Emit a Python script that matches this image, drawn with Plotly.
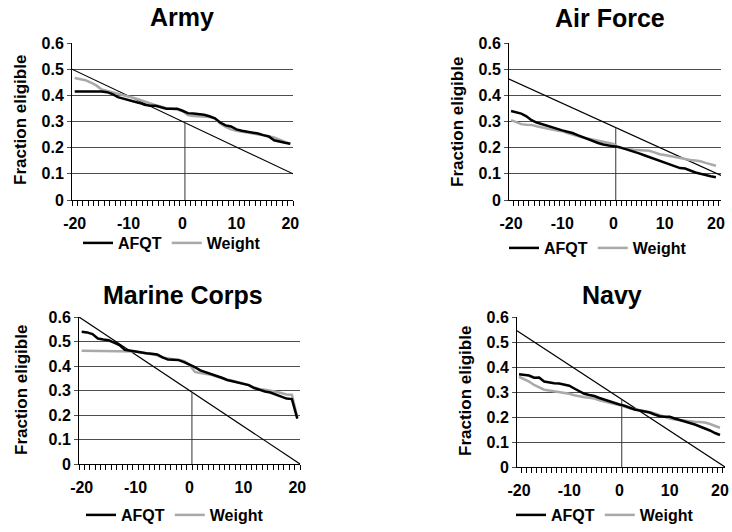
import plotly.graph_objects as go

# ---------------- data ----------------
x_vals = list(range(-20, 21))

army_afqt = [0.415, 0.415, 0.415, 0.415, 0.415, 0.415, 0.412, 0.405, 0.393, 0.388,
             0.383, 0.376, 0.371, 0.364, 0.360, 0.360, 0.355, 0.349, 0.349, 0.349,
             0.341, 0.332, 0.331, 0.329, 0.326, 0.320, 0.312, 0.296, 0.285, 0.281,
             0.270, 0.265, 0.262, 0.258, 0.254, 0.248, 0.243, 0.228, 0.222, 0.219, 0.215]
army_weight = [0.466, 0.462, 0.458, 0.449, 0.438, 0.422, 0.417, 0.410, 0.405, 0.400,
               0.396, 0.390, 0.383, 0.375, 0.368, 0.362, 0.357, 0.351, 0.349, 0.346,
               0.340, 0.325, 0.321, 0.320, 0.319, 0.317, 0.312, 0.292, 0.279, 0.270,
               0.265, 0.261, 0.258, 0.254, 0.250, 0.247, 0.244, 0.239, 0.231, 0.222, 0.214]

af_afqt = [0.340, 0.336, 0.330, 0.320, 0.305, 0.296, 0.290, 0.281, 0.275, 0.270,
           0.266, 0.261, 0.256, 0.248, 0.240, 0.232, 0.225, 0.218, 0.212, 0.208,
           0.205, 0.203, 0.197, 0.192, 0.185, 0.178, 0.171, 0.164, 0.158, 0.151,
           0.144, 0.136, 0.127, 0.122, 0.120, 0.112, 0.105, 0.100, 0.094, 0.091, 0.087]
af_weight = [0.305, 0.297, 0.290, 0.288, 0.287, 0.282, 0.277, 0.272, 0.269, 0.266,
             0.263, 0.256, 0.249, 0.244, 0.239, 0.235, 0.232, 0.227, 0.222, 0.218,
             0.214, 0.200, 0.196, 0.194, 0.192, 0.190, 0.189, 0.188, 0.182, 0.175,
             0.172, 0.168, 0.165, 0.162, 0.158, 0.153, 0.151, 0.148, 0.142, 0.137, 0.131]

mc_afqt = [0.540, 0.537, 0.530, 0.512, 0.508, 0.505, 0.495, 0.485, 0.466, 0.462,
           0.460, 0.456, 0.452, 0.450, 0.447, 0.435, 0.426, 0.425, 0.424, 0.416,
           0.407, 0.395, 0.382, 0.375, 0.368, 0.360, 0.352, 0.343, 0.337, 0.333,
           0.328, 0.322, 0.310, 0.302, 0.296, 0.292, 0.284, 0.276, 0.267, 0.265, 0.185]
mc_weight = [0.462, 0.462, 0.462, 0.462, 0.462, 0.462, 0.462, 0.462, 0.462, 0.461,
             0.459, 0.455, 0.452, 0.448, 0.444, 0.435, 0.430, 0.428, 0.426, 0.420,
             0.405, 0.376, 0.371, 0.368, 0.364, 0.357, 0.350, 0.344, 0.340, 0.335,
             0.329, 0.322, 0.312, 0.305, 0.303, 0.300, 0.295, 0.290, 0.284, 0.283, 0.190]

navy_afqt = [0.371, 0.370, 0.366, 0.357, 0.358, 0.342, 0.338, 0.335, 0.334, 0.331,
             0.325, 0.314, 0.302, 0.293, 0.288, 0.284, 0.276, 0.269, 0.262, 0.255,
             0.250, 0.245, 0.236, 0.230, 0.226, 0.222, 0.218, 0.210, 0.203, 0.201,
             0.201, 0.194, 0.187, 0.182, 0.176, 0.170, 0.163, 0.155, 0.146, 0.136, 0.128]
navy_weight = [0.361, 0.352, 0.342, 0.328, 0.317, 0.309, 0.306, 0.303, 0.300, 0.297,
               0.293, 0.287, 0.282, 0.279, 0.277, 0.274, 0.267, 0.261, 0.256, 0.252,
               0.248, 0.241, 0.235, 0.231, 0.228, 0.224, 0.220, 0.214, 0.207, 0.200,
               0.194, 0.190, 0.187, 0.184, 0.181, 0.181, 0.180, 0.178, 0.172, 0.166, 0.157]

# axis ranges (left column / right column)
left_range = [-20.5, 20.5]
right_range = [-20.4, 21.0]

# reference (diagonal) lines: value at left edge and right edge of each axis
army_ref = [0.50, 0.10]
af_ref = [0.462, 0.094]
mc_ref = [0.60, 0.0]
navy_ref = [0.545, 0.0]

# vertical marker line at zero
vline_x = [0.45, 0.45]
army_vline = [0, 0.296]
af_vline = [0, 0.275]
mc_vline = [0, 0.293]
navy_vline = [0, 0.27]

titles = ["Army", "Air Force", "Marine Corps", "Navy"]
x_ticks = [-20, -10, 0, 10, 20]
x_ticktext = ["-20", "-10", "0", "10", "20"]
y_ticks = [0, 0.1, 0.2, 0.3, 0.4, 0.5, 0.6]
y_ticktext = ["0", "0.1", "0.2", "0.3", "0.4", "0.5", "0.6"]

# ---------------- layout helpers ----------------
W, H = 732, 532
FONT = "Liberation Sans, Arial, sans-serif"

def px_x(p):
    return p / W

def px_y(p):
    return 1 - p / H

panels = [
    # (afqt, weight, ref, vline, range, x-domain px, y-domain px (top,bottom), title pos, ytitle pos, legend pos)
    (army_afqt, army_weight, army_ref, army_vline, left_range, (72, 293), (43, 200), (182, 17), (20, 120), (78, 243)),
    (af_afqt, af_weight, af_ref, af_vline, right_range, (509, 721), (43, 200), (610, 18), (457, 122), (504, 248)),
    (mc_afqt, mc_weight, mc_ref, mc_vline, left_range, (79, 300), (317, 464), (183, 295), (21, 390), (81, 515)),
    (navy_afqt, navy_weight, navy_ref, navy_vline, right_range, (517, 725), (317, 467), (612, 295), (465, 391), (511, 515)),
]

fig = go.Figure()
annotations = []
layout_upd = {}

for i, (afqt, weight, ref, vl, rng, xd, yd, tpos, ytpos, lpos) in enumerate(panels):
    n = i + 1
    xa = "x" if n == 1 else f"x{n}"
    ya = "y" if n == 1 else f"y{n}"
    lg = "legend" if n == 1 else f"legend{n}"

    fig.add_trace(go.Scatter(x=rng, y=ref, mode="lines", xaxis=xa, yaxis=ya,
                             line=dict(color="black", width=1.2), showlegend=False,
                             hoverinfo="skip"))
    fig.add_trace(go.Scatter(x=vline_x, y=vl, mode="lines", xaxis=xa, yaxis=ya,
                             line=dict(color="#333333", width=1), showlegend=False,
                             hoverinfo="skip"))
    fig.add_trace(go.Scatter(x=x_vals, y=weight, mode="lines", name="Weight",
                             xaxis=xa, yaxis=ya, legend=lg, legendrank=2,
                             line=dict(color="#a9a9a9", width=2.5)))
    fig.add_trace(go.Scatter(x=x_vals, y=afqt, mode="lines", name="AFQT",
                             xaxis=xa, yaxis=ya, legend=lg, legendrank=1,
                             line=dict(color="black", width=2.5)))

    xkey = "xaxis" if n == 1 else f"xaxis{n}"
    ykey = "yaxis" if n == 1 else f"yaxis{n}"
    layout_upd[xkey] = dict(
        domain=[px_x(xd[0]), px_x(xd[1])], anchor=ya, range=rng,
        showgrid=False, zeroline=False, showline=True, linecolor="black", linewidth=1,
        tickmode="array", tickvals=x_ticks, ticktext=x_ticktext,
        ticks="outside", ticklen=9, tickcolor="rgba(0,0,0,0)",
        minor=dict(ticks="outside", ticklen=5, tickcolor="black", tickwidth=1,
                   tickmode="linear", tick0=-20.5, dtick=1, showgrid=False),
        tickfont=dict(family=FONT, size=16, color="black", weight="bold"),
        fixedrange=True,
    )
    layout_upd[ykey] = dict(
        domain=[px_y(yd[1]), px_y(yd[0])], anchor=xa, range=[0, 0.6],
        showgrid=True, gridcolor="#4d4d4d", gridwidth=1, zeroline=False,
        showline=True, linecolor="black", linewidth=1,
        tickmode="array", tickvals=y_ticks, ticktext=y_ticktext,
        ticks="outside", ticklen=4, tickcolor="#4d4d4d",
        tickfont=dict(family=FONT, size=16, color="black", weight="bold"),
        fixedrange=True,
    )
    layout_upd[lg] = dict(
        orientation="h", x=px_x(lpos[0]), y=px_y(lpos[1]), xanchor="left", yanchor="middle",
        font=dict(family=FONT, size=16, color="black", weight="bold"),
        bgcolor="rgba(0,0,0,0)", borderwidth=0, itemwidth=30, traceorder="normal",
    )
    annotations.append(dict(text=titles[i], x=px_x(tpos[0]), y=px_y(tpos[1]),
                            xref="paper", yref="paper", xanchor="center", yanchor="middle",
                            showarrow=False,
                            font=dict(family=FONT, size=25, color="black", weight="bold")))
    annotations.append(dict(text="Fraction eligible", x=px_x(ytpos[0]), y=px_y(ytpos[1]),
                            xref="paper", yref="paper", xanchor="center", yanchor="middle",
                            textangle=-90, showarrow=False,
                            font=dict(family=FONT, size=17, color="black", weight="bold")))

fig.update_layout(
    width=W, height=H,
    margin=dict(l=0, r=0, t=0, b=0, autoexpand=False),
    paper_bgcolor="white", plot_bgcolor="white",
    annotations=annotations,
    **layout_upd,
)

fig.write_html("out.html", config={"displayModeBar": False},
               post_script="document.body.style.margin='0';document.body.style.overflow='hidden';")
